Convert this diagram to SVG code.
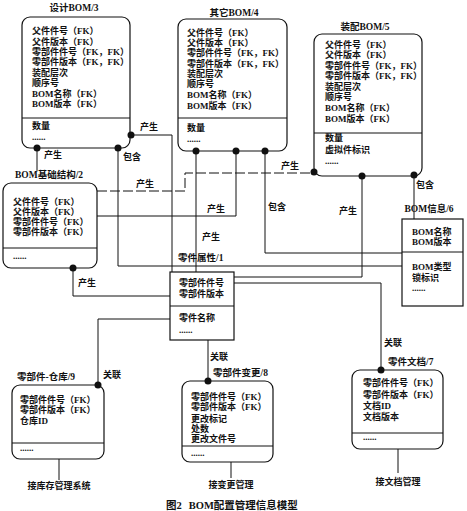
<svg xmlns="http://www.w3.org/2000/svg" width="467" height="511" viewBox="0 0 467 511">
<style>
.t{font-family:"Liberation Serif","Noto Sans CJK SC",serif;font-size:9px;font-weight:bold;fill:#111}
.ttl{font-family:"Liberation Serif","Noto Sans CJK SC",serif;font-size:9.5px;font-weight:bold;fill:#111}
.lab{font-family:"Liberation Serif","Noto Sans CJK SC",serif;font-size:9px;font-weight:bold;fill:#111}
.cap{font-family:"Liberation Serif","Noto Sans CJK SC",serif;font-size:10.5px;font-weight:bold;fill:#111}
.box{fill:#fff;stroke:#111;stroke-width:1.2}
.dv{stroke:#111;stroke-width:1}
.ln{fill:none;stroke:#111;stroke-width:1}
.dash{stroke-dasharray:10 3}
.dot{fill:#111}
</style>
<rect width="467" height="511" fill="#fff"/>

<g id="node3">
<text class="ttl" x="74" y="11" text-anchor="middle">设计BOM/3</text>
<rect class="box" x="22" y="17" width="108" height="131" rx="8"/>
<line class="dv" x1="22" y1="118" x2="130" y2="118"/>
<text class="t" x="32" y="34">父件件号（FK）</text>
<text class="t" x="32" y="45">父件版本（FK）</text>
<text class="t" x="32" y="55">零部件件号（FK，FK）</text>
<text class="t" x="32" y="65">零部件版本（FK，FK）</text>
<text class="t" x="32" y="76">装配层次</text>
<text class="t" x="32" y="86">顺序号</text>
<text class="t" x="32" y="97">BOM名称（FK）</text>
<text class="t" x="32" y="107">BOM版本（FK）</text>
<text class="t" x="32" y="129">数量</text>
<text class="t" x="32" y="140">......</text>
</g>

<g id="node4">
<text class="ttl" x="234" y="16" text-anchor="middle">其它BOM/4</text>
<rect class="box" x="178" y="19" width="109" height="132" rx="8"/>
<line class="dv" x1="178" y1="118" x2="287" y2="118"/>
<text class="t" x="187" y="36">父件件号（FK）</text>
<text class="t" x="187" y="46">父件版本（FK）</text>
<text class="t" x="187" y="56">零部件件号（FK，FK）</text>
<text class="t" x="187" y="67">零部件版本（FK，FK）</text>
<text class="t" x="187" y="77">装配层次</text>
<text class="t" x="187" y="87">顺序号</text>
<text class="t" x="187" y="98">BOM名称（FK）</text>
<text class="t" x="187" y="109">BOM版本（FK）</text>
<text class="t" x="187" y="131">数量</text>
<text class="t" x="187" y="142">......</text>
</g>

<g id="node5">
<text class="ttl" x="365" y="30" text-anchor="middle">装配BOM/5</text>
<rect class="box" x="314" y="34" width="108" height="142" rx="8"/>
<line class="dv" x1="314" y1="133" x2="422" y2="133"/>
<text class="t" x="325" y="48">父件件号（FK）</text>
<text class="t" x="325" y="58">父件版本（FK）</text>
<text class="t" x="325" y="69">零部件件号（FK，FK）</text>
<text class="t" x="325" y="79">零部件版本（FK，FK）</text>
<text class="t" x="325" y="90">装配层次</text>
<text class="t" x="325" y="100">顺序号</text>
<text class="t" x="325" y="111">BOM名称（FK）</text>
<text class="t" x="325" y="122">BOM版本（FK）</text>
<text class="t" x="325" y="141">数量</text>
<text class="t" x="325" y="153">虚拟件标识</text>
<text class="t" x="325" y="164">......</text>
</g>

<g id="node2">
<text class="ttl" x="15" y="178">BOM基础结构/2</text>
<rect class="box" x="3" y="183" width="94" height="85" rx="8"/>
<line class="dv" x1="3" y1="248" x2="97" y2="248"/>
<text class="t" x="13" y="205">父件件号（FK）</text>
<text class="t" x="13" y="215">父件版本（FK）</text>
<text class="t" x="13" y="225">零部件件号（FK）</text>
<text class="t" x="13" y="235">零部件版本（FK）</text>
<text class="t" x="13" y="259">......</text>
</g>

<g id="node1">
<text class="ttl" x="178" y="261">零件属性/1</text>
<rect class="box" x="170" y="272" width="64" height="68"/>
<line class="dv" x1="170" y1="306" x2="234" y2="306"/>
<text class="t" x="179" y="286">零部件件号</text>
<text class="t" x="179" y="297">零部件版本</text>
<text class="t" x="179" y="321">零件名称</text>
<text class="t" x="179" y="333">......</text>
</g>

<g id="node6">
<text class="ttl" x="429" y="212" text-anchor="middle">BOM信息/6</text>
<rect class="box" x="402" y="219" width="61" height="87"/>
<line class="dv" x1="402" y1="252" x2="463" y2="252"/>
<text class="t" x="412" y="235">BOM名称</text>
<text class="t" x="412" y="245">BOM版本</text>
<text class="t" x="412" y="270">BOM类型</text>
<text class="t" x="412" y="281">锁标识</text>
<text class="t" x="412" y="291">......</text>
</g>

<g id="node9">
<text class="ttl" x="17" y="380">零部件-仓库/9</text>
<rect class="box" x="12" y="385" width="92" height="74" rx="8"/>
<line class="dv" x1="12" y1="443" x2="104" y2="443"/>
<text class="t" x="20" y="403">零部件件号（FK）</text>
<text class="t" x="20" y="413">零部件版本（FK）</text>
<text class="t" x="20" y="424">仓库ID</text>
<text class="t" x="20" y="451">......</text>
</g>

<g id="node8">
<text class="ttl" x="213" y="376">零部件变更/8</text>
<rect class="box" x="182" y="381" width="91" height="81" rx="8"/>
<line class="dv" x1="182" y1="446" x2="273" y2="446"/>
<text class="t" x="191" y="400">零部件件号（FK）</text>
<text class="t" x="191" y="410">零部件版本（FK）</text>
<text class="t" x="191" y="422">更改标记</text>
<text class="t" x="191" y="432">处数</text>
<text class="t" x="191" y="442">更改文件号</text>
<text class="t" x="191" y="456">......</text>
</g>

<g id="node7">
<text class="ttl" x="388" y="365">零件文档/7</text>
<rect class="box" x="352" y="370" width="91" height="79" rx="8"/>
<line class="dv" x1="352" y1="433" x2="443" y2="433"/>
<text class="t" x="363" y="386">零部件件号（FK）</text>
<text class="t" x="363" y="398">零部件版本（FK）</text>
<text class="t" x="363" y="409">文档ID</text>
<text class="t" x="363" y="420">文档版本</text>
<text class="t" x="363" y="440">......</text>
</g>

<g id="connectors">
<path class="ln" d="M37,148 V171"/>
<path class="ln" d="M118,148 V266 H402"/>
<path class="ln" d="M131,135 H172 V272"/>
<path class="ln dash" d="M97,191 H185 V173 H314"/>
<path class="ln" d="M196,151 V272"/>
<path class="ln" d="M236,151 V216 H97"/>
<path class="ln" d="M265,151 V253 H402"/>
<path class="ln" d="M362,176 V277 H234"/>
<path class="ln" d="M414,175 V219"/>
<path class="ln" d="M73,268 V296 H170"/>
<path class="ln" d="M170,319 H98 V385"/>
<path class="ln" d="M208,340 V381"/>
<path class="ln" d="M234,283 H381 V370"/>
<path class="ln" d="M59,459 V480"/>
<path class="ln" d="M231,462 V478"/>
<path class="ln" d="M398,449 V473"/>
<circle class="dot" cx="37" cy="148" r="3.5"/>
<circle class="dot" cx="118" cy="148" r="3.5"/>
<circle class="dot" cx="131" cy="135" r="3.5"/>
<circle class="dot" cx="196" cy="151" r="3.5"/>
<circle class="dot" cx="236" cy="151" r="3.5"/>
<circle class="dot" cx="265" cy="151" r="3.5"/>
<circle class="dot" cx="314" cy="172" r="3.5"/>
<circle class="dot" cx="362" cy="176" r="3.5"/>
<circle class="dot" cx="414" cy="175" r="3.5"/>
<circle class="dot" cx="73" cy="268" r="3.5"/>
<circle class="dot" cx="98" cy="385" r="3.5"/>
<circle class="dot" cx="208" cy="381" r="3.5"/>
<circle class="dot" cx="381" cy="370" r="3.5"/>
<text class="lab" x="44" y="158">产生</text>
<text class="lab" x="123" y="160">包含</text>
<text class="lab" x="140" y="130">产生</text>
<text class="lab" x="136" y="187">产生</text>
<text class="lab" x="281" y="169">产生</text>
<text class="lab" x="202" y="240">产生</text>
<text class="lab" x="207" y="212">产生</text>
<text class="lab" x="268" y="210">包含</text>
<text class="lab" x="339" y="214">产生</text>
<text class="lab" x="416" y="188">包含</text>
<text class="lab" x="78" y="286">产生</text>
<text class="lab" x="103" y="378">关联</text>
<text class="lab" x="210" y="360">关联</text>
<text class="lab" x="384" y="346">关联</text>
<text class="lab" x="59" y="489" text-anchor="middle">接库存管理系统</text>
<text class="lab" x="231" y="488" text-anchor="middle">接变更管理</text>
<text class="lab" x="398" y="485" text-anchor="middle">接文档管理</text>
</g>

<text class="cap" x="166" y="509">图2<tspan dx="7">BOM配置管理信息模型</tspan></text>
</svg>
